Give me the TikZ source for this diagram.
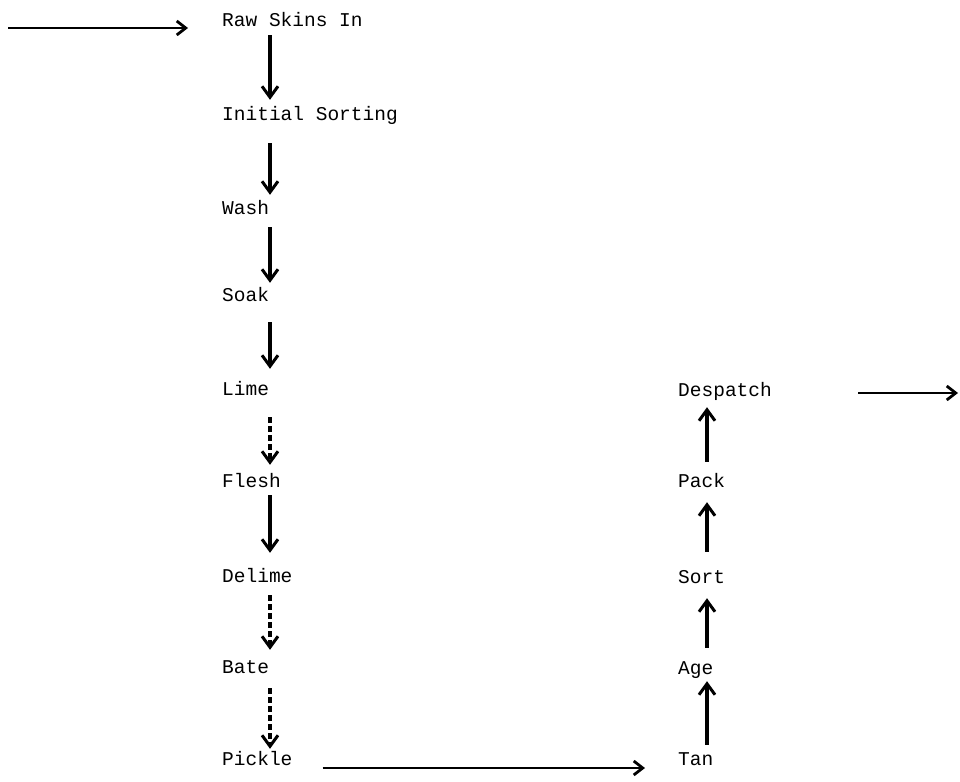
\documentclass[tikz,border=0pt]{standalone}
\usepackage{fontspec}
\setmonofont{Liberation Mono}
\usetikzlibrary{arrows.meta}
\begin{document}
\begin{tikzpicture}[x=1pt,y=-1pt,
  lbl/.style={anchor=west,inner sep=0pt,font=\ttfamily\fontsize{19.5}{19.5}\selectfont,text height=13pt,text depth=3pt},
  arr/.style={line width=3.4pt,-{Straight Barb[length=11pt,width=16pt,line width=3pt]}},
  harr/.style={line width=2.8pt,-{Straight Barb[length=9pt,width=14pt,line width=2.8pt]}},
  darr/.style={arr,dash pattern=on 6pt off 3pt},
  ]
\useasboundingbox (0,0) rectangle (960,781);
% left column
\node[lbl] (raw)    at (222,22)  {Raw Skins In};
\node[lbl] (init)   at (222,116) {Initial Sorting};
\node[lbl] (wash)   at (222,209) {Wash};
\node[lbl] (soak)   at (222,296) {Soak};
\node[lbl] (lime)   at (222,390) {Lime};
\node[lbl] (flesh)  at (222,482) {Flesh};
\node[lbl] (delime) at (222,577) {Delime};
\node[lbl] (bate)   at (222,668) {Bate};
\node[lbl] (pickle) at (222,760) {Pickle};
% right column
\node[lbl] (tan)    at (678,760) {Tan};
\node[lbl] (age)    at (678,669) {Age};
\node[lbl] (sort)   at (678,578) {Sort};
\node[lbl] (pack)   at (678,482) {Pack};
\node[lbl] (desp)   at (678,391) {Despatch};
% free ends
\coordinate (in)  at (8,28);
\coordinate (out) at (958,393);
% connectors, left column (downwards)
\foreach \a/\b/\s/\p/\q in {raw/init/arr/5/8, init/wash/arr/19/6, wash/soak/arr/10/5,
    soak/lime/arr/18/13, lime/flesh/darr/19/9, flesh/delime/arr/5/16,
    delime/bate/darr/10/10, bate/pickle/darr/12/3}{
  \draw[\s] ([xshift=48pt,yshift=-\p pt]\a.south west) -- ([xshift=48pt,yshift=\q pt]\b.north west);
}
% right column (upwards)
\foreach \a/\b/\p/\q in {tan/age/7/4, age/sort/13/12, sort/pack/18/12, pack/desp/12/8}{
  \draw[arr] ([xshift=29pt,yshift=\p pt]\a.north west) -- ([xshift=29pt,yshift=-\q pt]\b.south west);
}
% horizontals
\draw[harr] (in) -- ([xshift=-34pt,yshift=-6pt]raw.west);
\draw[harr] ([xshift=30pt,yshift=-8pt]pickle.east) -- ([xshift=-33pt,yshift=-8pt]tan.west);
\draw[harr] ([xshift=86pt,yshift=-2pt]desp.east) -- (out);
\end{tikzpicture}
\end{document}
